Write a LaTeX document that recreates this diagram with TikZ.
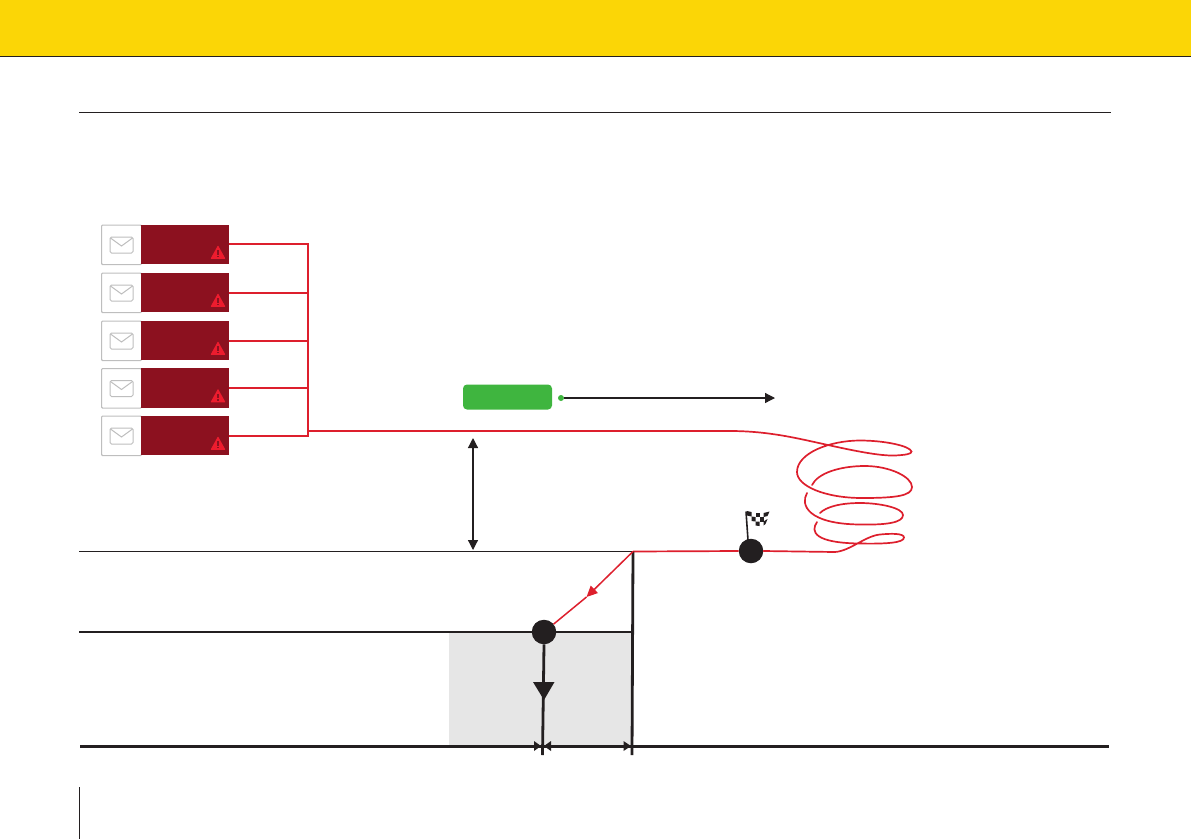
\documentclass[tikz,border=0pt]{standalone}
\usetikzlibrary{arrows.meta}
\definecolor{hdr}{HTML}{FBD606}
\definecolor{wine}{HTML}{8C111F}
\definecolor{alarm}{HTML}{DD1F2D}
\definecolor{warn}{HTML}{ED1C2E}
\definecolor{ink}{HTML}{231F20}
\definecolor{okgreen}{HTML}{3FB53F}
\definecolor{boxedge}{HTML}{BEBEBE}
\definecolor{zonegrey}{HTML}{E6E6E6}
\tikzset{
  mailbox/.style={draw=boxedge,line width=1.1pt,fill=white,rounded corners=1pt,minimum width=40pt,minimum height=39.5pt,inner sep=0pt,anchor=north west},
  winebox/.style={fill=wine,minimum width=88pt,minimum height=39.5pt,inner sep=0pt,anchor=north west},
  redline/.style={draw=alarm,line width=2pt},
  thinred/.style={draw=alarm,line width=1.7pt},
  blackdot/.style={circle,fill=ink,minimum size=24.5pt,inner sep=0pt},
  axisline/.style={draw=ink,line width=2.4pt},
  thinline/.style={draw=ink,line width=1.2pt},
  solidtip/.style={-{Triangle[length=10pt,width=10pt]}}
}
\newcommand{\mailicon}[2]{%
  \draw[draw=boxedge,line width=1pt,rounded corners=1.5pt] (#1-11.5,#2-8) rectangle (#1+11.5,#2+8);
  \draw[draw=boxedge,line width=1pt] (#1-11,#2-7) -- (#1,#2+1) -- (#1+11,#2-7);
}
\newcommand{\warnicon}[2]{%
  \fill[warn,rounded corners=0.6pt] (#1-7.5,#2+6.5) -- (#1,#2-7) -- (#1+7.5,#2+6.5) -- cycle;
  \fill[wine] (#1-0.6,#2-2) rectangle (#1+0.6,#2+2.5);
  \fill[wine] (#1-0.6,#2+3.4) rectangle (#1+0.6,#2+4.8);
}
\begin{document}
\begin{tikzpicture}[x=1pt,y=-1pt]
\useasboundingbox (0,0) rectangle (1191,839);
% header
\fill[hdr] (0,0) rectangle (1191,56);
\draw[ink,line width=0.9pt] (0,56.3) -- (1191,56.3);
\draw[ink,line width=1pt] (79,112.5) -- (1111,112.5);
\draw[ink,line width=1pt] (79,787) -- (79,839);
% shaded zone
\fill[zonegrey] (449,632) rectangle (632,746);
% mail rows
\foreach \n/\yy/\conn in {a/224.5/243.5,b/272.5/293,c/320.5/341,d/368/388,e/415.5/436}{
  \node[mailbox] (m\n) at (101,\yy) {};
  \node[winebox] (w\n) at (141,\yy) {};
  \pgfmathsetmacro{\my}{\yy+20.5}
  \mailicon{121.5}{\my}
  \pgfmathsetmacro{\wy}{\yy+27.8}
  \warnicon{218}{\wy}
}
\coordinate (ca) at (229,243.5); \coordinate (ja) at (308,243.5);
\coordinate (cb) at (229,293);   \coordinate (jb) at (308,293);
\coordinate (cc) at (229,341);   \coordinate (jc) at (308,341);
\coordinate (cd) at (229,388);   \coordinate (jd) at (308,388);
\coordinate (ce) at (229,436);   \coordinate (je) at (308,436);
\draw[redline] (ca) -- (ja) (cb) -- (jb) (cc) -- (jc) (cd) -- (jd) (ce) -- (je);
\draw[redline,line cap=rect] (ja) -- (je);
% wandering red path
\coordinate (wander) at (308,431);
\node[blackdot] (flagdot) at (751,551) {};
\node[blackdot] (lowdot) at (544,632) {};
\coordinate (corner) at (633,551.5);
\draw[thinred,line cap=round] (wander) -- (730,431)
  .. controls (770,431) and (800,439) .. (828,445)
  .. controls (855,451) and (880,456) .. (895,455.5)
  .. controls (905,455) and (912,454) .. (911.5,451.5)
  .. controls (910,446) and (885,440.5) .. (860,440.5)
  .. controls (830,440.5) and (797,453) .. (797,472)
  .. controls (797,486) and (825,498) .. (862,498)
  .. controls (895,498) and (912,496) .. (912,487)
  .. controls (912,477) and (890,466) .. (865,466)
  .. controls (840,466) and (818,473) .. (812,485);
\draw[thinred,line cap=round] (807,493)
  .. controls (800,505) and (808,524) .. (860,524.5)
  .. controls (885,525) and (903,523) .. (903,515)
  .. controls (903,508) and (880,503) .. (860,503)
  .. controls (840,503) and (826,507) .. (820,513);
\draw[thinred,line cap=round] (817,522)
  .. controls (810,532) and (815,543) .. (860,543.5)
  .. controls (885,544) and (904,543) .. (904,537.5)
  .. controls (904,533) and (890,533.5) .. (880,534.5)
  .. controls (865,536) and (850,551) .. (835,552)
  -- (flagdot.east);
\draw[thinred] (flagdot.west) -- (corner);
% flag
\draw[ink,line width=1.6pt] (748,540) -- (746,511.5);
\begin{scope}[shift={(746.5,511)}]
  \fill[ink] (0.5,0) -- (5,1) -- (5,5.5) -- (0.5,4.5) -- cycle;
  \fill[ink] (9,2) -- (13,2) -- (13,6) -- (9,6) -- cycle;
  \fill[ink] (17,2) -- (23,0.5) -- (21,5) -- (17,6) -- cycle;
  \fill[ink] (5,5.5) -- (9,6) -- (9,10.5) -- (5,10) -- cycle;
  \fill[ink] (13,6) -- (17,6) -- (17,10.5) -- (13,10.5) -- cycle;
  \fill[ink] (17,10.5) -- (21,8) -- (19,13) -- (17,14.5) -- cycle;
  \fill[ink] (9,10.5) -- (13,10.5) -- (13,15) -- (9,14.5) -- cycle;
\end{scope}
% reference lines
\coordinate (l1) at (79,551.5);
\coordinate (l2) at (79,632);
\draw[thinline] (l1) -- (corner);
\draw[axisline] (l2) -- (lowdot.west);
\draw[axisline] (lowdot.east) -- (632,632);
\draw[axisline,line width=2.8pt] (corner) -- (632,755);
% red diagonal
\draw[thinred,line width=1.5pt,-{Triangle[length=11pt,width=10pt]}] (corner) -- (586.5,597);
\draw[thinred,line width=1.5pt] (586.5,597) -- (lowdot);
% drop arrow
\coordinate (dropend) at (542.5,755);
\draw[ink,line width=2.8pt] (lowdot.south) -- (dropend);
\fill[ink] (533,682) -- (554.5,682) -- (544,700) -- cycle;
% base
\coordinate (b1) at (80,746);
\coordinate (b2) at (1109,746);
\draw[axisline,line width=3pt] (b1) -- (b2);
\fill[ink] (534,741) -- (541,746) -- (534,751) -- cycle;
\fill[ink] (551,741) -- (544,746) -- (551,751) -- cycle;
\fill[ink] (623.5,741) -- (631,746) -- (623.5,751) -- cycle;
% green tag
\node[fill=okgreen,rounded corners=4pt,minimum width=89pt,minimum height=25pt,inner sep=0pt] (tag) at (507.5,397) {};
\node[circle,fill=okgreen,minimum size=6pt,inner sep=0pt] (gdot) at (561,398) {};
\coordinate (gend) at (775,398);
\draw[thinline,solidtip] (gdot.east) -- (gend);
% double arrow
\coordinate (ht) at (473,438);
\coordinate (hb) at (473,550);
\draw[thinline,{Triangle[length=10pt,width=10pt]}-{Triangle[length=10pt,width=10pt]}] (ht) -- (hb);
\end{tikzpicture}
\end{document}
